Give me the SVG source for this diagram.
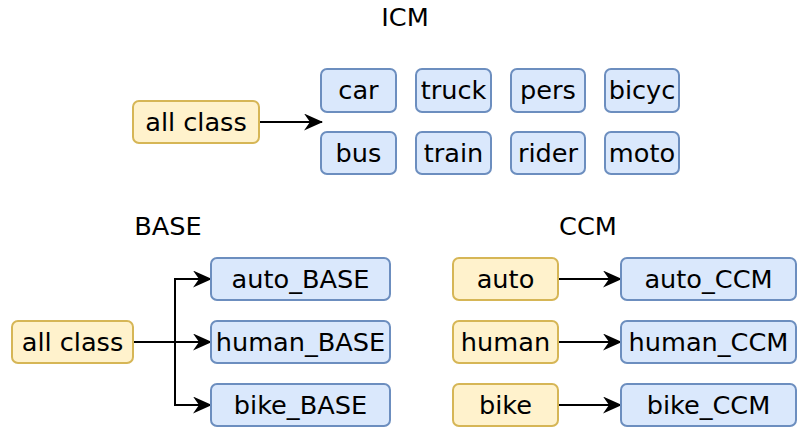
<svg xmlns="http://www.w3.org/2000/svg" width="797" height="430" viewBox="0 0 797 430">
<defs>
<style>
.y{fill:#fff2cc;stroke:#d6b656;stroke-width:2}
.b{fill:#dae8fc;stroke:#6c8ebf;stroke-width:2}
text{font-family:"DejaVu Sans",Verdana,sans-serif;font-size:25.6px;fill:#000;text-anchor:middle;dominant-baseline:central}
.c{fill:none;stroke:#000;stroke-width:2}
</style>
<marker id="ar" viewBox="0 0 19 17" refX="18" refY="8.5" markerWidth="19" markerHeight="17" markerUnits="userSpaceOnUse" orient="auto">
<path d="M0,0 L19,8.5 L0,17 L6,8.5 Z" fill="#000"/>
</marker>
</defs>
<text x="405" y="17">ICM</text>
<text x="168" y="226">BASE</text>
<text x="588" y="226">CCM</text>
<g id="connectors">
<path class="c" d="M259,122 L322,122" marker-end="url(#ar)"/>
<path class="c" d="M133,342 L175,342 L175,279 L211,279" marker-end="url(#ar)"/>
<path class="c" d="M133,342 L211,342" marker-end="url(#ar)"/>
<path class="c" d="M133,342 L175,342 L175,405 L211,405" marker-end="url(#ar)"/>
<path class="c" d="M558,279 L621,279" marker-end="url(#ar)"/>
<path class="c" d="M558,342 L621,342" marker-end="url(#ar)"/>
<path class="c" d="M558,405 L621,405" marker-end="url(#ar)"/>
</g>
<g id="allclass1"><rect class="y" x="133" y="101" width="126" height="42" rx="6"/><text x="196" y="122">all class</text></g>
<g id="car"><rect class="b" x="321" y="69" width="75" height="43" rx="6"/><text x="358.5" y="90">car</text></g>
<g id="truck"><rect class="b" x="416" y="69" width="75" height="43" rx="6"/><text x="453.5" y="90">truck</text></g>
<g id="pers"><rect class="b" x="511" y="69" width="74" height="43" rx="6"/><text x="548" y="90">pers</text></g>
<g id="bicyc"><rect class="b" x="605" y="69" width="74" height="43" rx="6"/><text x="642" y="90">bicyc</text></g>
<g id="bus"><rect class="b" x="321" y="132" width="75" height="42" rx="6"/><text x="358.5" y="153">bus</text></g>
<g id="train"><rect class="b" x="416" y="132" width="75" height="42" rx="6"/><text x="453.5" y="153">train</text></g>
<g id="rider"><rect class="b" x="511" y="132" width="74" height="42" rx="6"/><text x="548" y="153">rider</text></g>
<g id="moto"><rect class="b" x="605" y="132" width="74" height="42" rx="6"/><text x="642" y="153">moto</text></g>
<g id="allclass2"><rect class="y" x="12" y="321" width="121" height="42" rx="6"/><text x="72.5" y="342">all class</text></g>
<g id="auto_BASE"><rect class="b" x="211" y="258" width="179" height="42" rx="6"/><text x="300.5" y="279">auto_BASE</text></g>
<g id="human_BASE"><rect class="b" x="211" y="321" width="179" height="42" rx="6"/><text x="300.5" y="342">human_BASE</text></g>
<g id="bike_BASE"><rect class="b" x="211" y="384" width="179" height="42" rx="6"/><text x="300.5" y="405">bike_BASE</text></g>
<g id="auto"><rect class="y" x="453" y="258" width="105" height="42" rx="6"/><text x="505.5" y="279">auto</text></g>
<g id="human"><rect class="y" x="453" y="321" width="105" height="42" rx="6"/><text x="505.5" y="342">human</text></g>
<g id="bike"><rect class="y" x="453" y="384" width="105" height="42" rx="6"/><text x="505.5" y="405">bike</text></g>
<g id="auto_CCM"><rect class="b" x="621" y="258" width="175" height="42" rx="6"/><text x="708.5" y="279">auto_CCM</text></g>
<g id="human_CCM"><rect class="b" x="621" y="321" width="175" height="42" rx="6"/><text x="708.5" y="342">human_CCM</text></g>
<g id="bike_CCM"><rect class="b" x="621" y="384" width="175" height="42" rx="6"/><text x="708.5" y="405">bike_CCM</text></g>
</svg>
